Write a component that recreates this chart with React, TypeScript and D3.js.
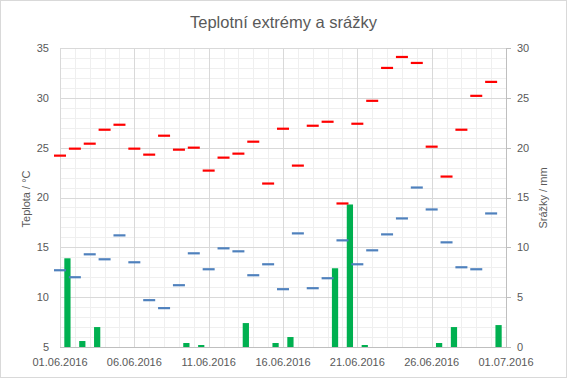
import React from "react";
import * as d3 from "d3";

const startDate = new Date(2016, 5, 1);
const tMax = [24.2, 24.9, 25.4, 26.8, 27.3, 24.9, 24.3, 26.2, 24.8, 25.0, 22.7, 24.0, 24.4, 25.6, 21.4, 26.9, 23.2, 27.2, 27.6, 19.4, 27.4, 29.7, 33.0, 34.1, 33.5, 25.1, 22.1, 26.8, 30.2, 31.6];
const tMin = [12.7, 12.0, 14.3, 13.8, 16.2, 13.5, 9.7, 8.9, 11.2, 14.4, 12.8, 14.9, 14.6, 12.2, 13.3, 10.8, 16.4, 10.9, 11.9, 15.7, 13.3, 14.7, 16.3, 17.9, 21.0, 18.8, 15.5, 13.0, 12.8, 18.4];
const precip = [8.9, 0.6, 2.0, 0, 0, 0, 0, 0, 0.4, 0.2, 0, 0, 2.4, 0, 0.4, 1.0, 0, 0, 7.9, 14.3, 0.2, 0, 0, 0, 0, 0.4, 2.0, 0, 0, 2.2];
const leftTicks = [5, 10, 15, 20, 25, 30, 35];
const rightTicks = [0, 5, 10, 15, 20, 25, 30];
const xTickDays = [0, 5, 10, 15, 20, 25, 30];

const title = "Teplotní extrémy a srážky";
const leftTitle = "Teplota / °C";
const rightTitle = "Srážky / mm";

const W = 567, H = 378;
const L = 60, R = 506, T = 48, B = 347;
const FONT = "Liberation Sans, Arial, sans-serif";
const TXT = "#595959";

export default function App() {
  const x = d3.scaleLinear().domain([0, 30]).range([L, R]);
  const yL = d3.scaleLinear().domain([5, 35]).range([B, T]);
  const yR = d3.scaleLinear().domain([0, 30]).range([B, T]);
  const fmt = d3.timeFormat("%d.%m.%Y");
  const dayW = x(1) - x(0);
  const barW = dayW * 0.42;
  const mk = 12;

  const minorY = d3.range(5, 36, 1);
  const minorX = d3.range(0, 31, 1);

  return (
    <svg width={W} height={H} style={{ position: "absolute", left: 0, top: 0, display: "block" }} fontFamily={FONT}>
      <rect x={0.5} y={0.5} width={W - 1} height={H - 1} fill="#fff" stroke="#d9d9d9" />
      {minorY.map((v) => (
        <line key={"my" + v} x1={L} x2={R} y1={Math.round(yL(v)) + 0.5} y2={Math.round(yL(v)) + 0.5} stroke="#efefef" />
      ))}
      {minorX.map((v) => (
        <line key={"mx" + v} x1={Math.round(x(v)) + 0.5} x2={Math.round(x(v)) + 0.5} y1={T} y2={B} stroke="#efefef" />
      ))}
      {leftTicks.map((v) => (
        <line key={"gy" + v} x1={L} x2={R} y1={Math.round(yL(v)) + 0.5} y2={Math.round(yL(v)) + 0.5} stroke="#d9d9d9" />
      ))}
      {xTickDays.map((v) => (
        <line key={"gx" + v} x1={Math.round(x(v)) + 0.5} x2={Math.round(x(v)) + 0.5} y1={T} y2={B} stroke="#d9d9d9" />
      ))}
      {/* axes */}
      <line x1={L} x2={R} y1={B + 0.5} y2={B + 0.5} stroke="#bfbfbf" />
      <line x1={R + 0.5} x2={R + 0.5} y1={T} y2={B} stroke="#bfbfbf" />
      {rightTicks.map((v) => (
        <line key={"rt" + v} x1={R} x2={R + 5} y1={Math.round(yR(v)) + 0.5} y2={Math.round(yR(v)) + 0.5} stroke="#bfbfbf" />
      ))}
      {/* bars */}
      {precip.map((p, i) => (p > 0 ? (
        <rect key={"b" + i} x={x(i + 0.5) - barW / 2} width={barW} y={yR(p)} height={yR(0) - yR(p)} fill="#00b050" />
      ) : null))}
      {/* markers */}
      {tMax.map((v, i) => (
        <line key={"r" + i} x1={x(i) - mk / 2} x2={x(i) + mk / 2} y1={yL(v)} y2={yL(v)} stroke="#ff0000" strokeWidth={2.2} />
      ))}
      {tMin.map((v, i) => (
        <line key={"u" + i} x1={x(i) - mk / 2} x2={x(i) + mk / 2} y1={yL(v)} y2={yL(v)} stroke="#4f81bd" strokeWidth={2.2} />
      ))}
      {/* tick labels */}
      {leftTicks.map((v) => (
        <text key={"lt" + v} x={L - 11} y={yL(v)} dy="0.35em" textAnchor="end" fontSize={11} fill={TXT}>{v}</text>
      ))}
      {rightTicks.map((v) => (
        <text key={"rl" + v} x={R + 11} y={yR(v)} dy="0.35em" textAnchor="start" fontSize={11} fill={TXT}>{v}</text>
      ))}
      {xTickDays.map((d) => (
        <text key={"xl" + d} x={x(d)} y={366} textAnchor="middle" fontSize={11} fill={TXT}>{fmt(d3.timeDay.offset(startDate, d))}</text>
      ))}
      <text x={283.5} y={28} textAnchor="middle" fontSize={16.5} fill={TXT}>{title}</text>
      <text transform={`translate(30,199) rotate(-90)`} textAnchor="middle" fontSize={11} fill={TXT}>{leftTitle}</text>
      <text transform={`translate(547,198) rotate(-90)`} textAnchor="middle" fontSize={11} fill={TXT}>{rightTitle}</text>
    </svg>
  );
}
